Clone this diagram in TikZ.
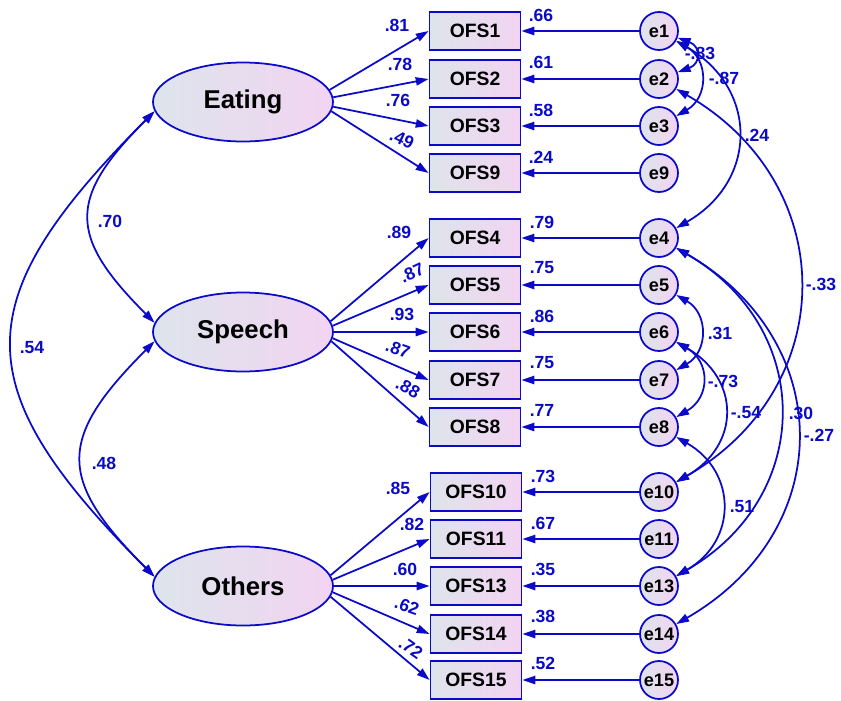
\documentclass[tikz,border=0pt]{standalone}
\usepackage{fontspec}
\setmainfont{Liberation Sans}
\usetikzlibrary{arrows.meta,shapes.geometric}
\definecolor{amosblue}{RGB}{10,10,200}
\definecolor{fillleft}{RGB}{222,228,236}
\definecolor{fillright}{RGB}{242,212,242}
\tikzset{every path/.style={line width=1.5pt}}
\tikzset{
  obs/.style={draw=amosblue,left color=fillleft,right color=fillright,minimum width=2.73cm,minimum height=1.14cm,inner sep=0pt,font=\bfseries\fontsize{16.5}{18}\selectfont},
  lat/.style={ellipse,draw=amosblue,left color=fillleft,right color=fillright,minimum width=5.4cm,minimum height=2.37cm,inner sep=0pt,font=\bfseries\fontsize{22}{24}\selectfont},
  err/.style={circle,draw=amosblue,left color=fillleft,right color=fillright,minimum size=1.14cm,inner sep=0pt,font=\bfseries\fontsize{15.5}{17}\selectfont},
  load/.style={draw=amosblue,-{Triangle[length=11pt,width=7pt]}},
  cov/.style={draw=amosblue,{Triangle[length=11pt,width=7pt]}-{Triangle[length=11pt,width=7pt]}},
  num/.style={text=amosblue,inner sep=0pt,font=\bfseries\fontsize{15}{17}\selectfont}
}

\begin{document}
\begin{tikzpicture}[x=0.03cm,y=-0.03cm]
\useasboundingbox (0,0) rectangle (841,700);
% latent factors
\node[lat] (eat) at (243,102) {Eating};
\node[lat] (sp) at (243,332) {Speech};
\node[lat] (oth) at (243,586) {Others};
% observed items
\node[obs] (ofs1) at (475,31) {OFS1};
\node[obs] (ofs2) at (475,79) {OFS2};
\node[obs] (ofs3) at (475,126) {OFS3};
\node[obs] (ofs9) at (475,173) {OFS9};
\node[obs] (ofs4) at (475,238) {OFS4};
\node[obs] (ofs5) at (475,285) {OFS5};
\node[obs] (ofs6) at (475,332) {OFS6};
\node[obs] (ofs7) at (475,380) {OFS7};
\node[obs] (ofs8) at (475,427) {OFS8};
\node[obs] (ofs10) at (476,492) {OFS10};
\node[obs] (ofs11) at (476,539) {OFS11};
\node[obs] (ofs13) at (476,586) {OFS13};
\node[obs] (ofs14) at (476,634) {OFS14};
\node[obs] (ofs15) at (476,680) {OFS15};
% errors
\node[err] (e1) at (659,31) {e1};
\node[err] (e2) at (659,79) {e2};
\node[err] (e3) at (659,126) {e3};
\node[err] (e9) at (659,173) {e9};
\node[err] (e4) at (659,238) {e4};
\node[err] (e5) at (659,285) {e5};
\node[err] (e6) at (659,332) {e6};
\node[err] (e7) at (659,380) {e7};
\node[err] (e8) at (659,427) {e8};
\node[err] (e10) at (659,492) {e10};
\node[err] (e11) at (659,539) {e11};
\node[err] (e13) at (659,586) {e13};
\node[err] (e14) at (659,634) {e14};
\node[err] (e15) at (659,680) {e15};
% loadings
\draw[load] (eat.8) -- (ofs1.west);
\draw[load] (eat.3) -- (ofs2.west);
\draw[load] (eat.-3) -- (ofs3.west);
\draw[load] (eat.-6) -- (ofs9.west);
\draw[load] (sp.7) -- (ofs4.west);
\draw[load] (sp.4) -- (ofs5.west);
\draw[load] (sp.0) -- (ofs6.west);
\draw[load] (sp.-4) -- (ofs7.west);
\draw[load] (sp.-6) -- (ofs8.west);
\draw[load] (oth.7) -- (ofs10.west);
\draw[load] (oth.4) -- (ofs11.west);
\draw[load] (oth.0) -- (ofs13.west);
\draw[load] (oth.-4) -- (ofs14.west);
\draw[load] (oth.-7) -- (ofs15.west);
\node[num] (ld1) at (397,25) {.81};
\node[num] (ld2) at (400,64) {.78};
\node[num] (ld3) at (398,100) {.76};
\node[num,rotate=-25] (ld9) at (402,139) {.49};
\node[num] (ld4) at (399,232) {.89};
\node[num,rotate=25] (ld5) at (412,273) {.87};
\node[num] (ld6) at (402,314) {.93};
\node[num,rotate=-20] (ld7) at (398,349) {.87};
\node[num,rotate=-30] (ld8) at (408,388) {.88};
\node[num] (ld10) at (398,488) {.85};
\node[num] (ld11) at (412,524) {.82};
\node[num] (ld13) at (405,569) {.60};
\node[num,rotate=-20] (ld14) at (407,606) {.62};
\node[num,rotate=-35] (ld15) at (411,648) {.72};
% error paths
\draw[load] (e1.west) -- (ofs1.east);
\draw[load] (e2.west) -- (ofs2.east);
\draw[load] (e3.west) -- (ofs3.east);
\draw[load] (e9.west) -- (ofs9.east);
\draw[load] (e4.west) -- (ofs4.east);
\draw[load] (e5.west) -- (ofs5.east);
\draw[load] (e6.west) -- (ofs6.east);
\draw[load] (e7.west) -- (ofs7.east);
\draw[load] (e8.west) -- (ofs8.east);
\draw[load] (e10.west) -- (ofs10.east);
\draw[load] (e11.west) -- (ofs11.east);
\draw[load] (e13.west) -- (ofs13.east);
\draw[load] (e14.west) -- (ofs14.east);
\draw[load] (e15.west) -- (ofs15.east);
\node[num] (vr1) at (541,15) {.66};
\node[num] (vr2) at (541,62) {.61};
\node[num] (vr3) at (541,110) {.58};
\node[num] (vr9) at (541,157) {.24};
\node[num] (vr4) at (542,222) {.79};
\node[num] (vr5) at (542,268) {.75};
\node[num] (vr6) at (542,316) {.86};
\node[num] (vr7) at (542,363) {.75};
\node[num] (vr8) at (542,410) {.77};
\node[num] (vr10) at (543,476) {.73};
\node[num] (vr11) at (543,523) {.67};
\node[num] (vr13) at (543,569) {.35};
\node[num] (vr14) at (543,616) {.38};
\node[num] (vr15) at (543,663) {.52};
% factor covariances
\draw[cov] (eat.186) to[out=-135,in=135,looseness=1.49] (sp.174);
\draw[cov] (eat.186) to[out=-135,in=135,looseness=1.48] (oth.174);
\draw[cov] (sp.186) to[out=-135,in=135,looseness=1.5] (oth.174);
\node[num] (cf1) at (110,221) {.70};
\node[num] (cf2) at (32,348) {.54};
\node[num] (cf3) at (104,463) {.48};
% error covariances
\draw[cov] (e1) to[out=-20,in=20,looseness=1.85] (e2);
\draw[cov] (e1) to[out=-30,in=30,looseness=1.28] (e3);
\draw[cov] (e1) to[out=-30,in=30,looseness=1.3] (e4);
\draw[cov] (e2) to[out=-30,in=30,looseness=1.24] (e10);
\draw[cov] (e4) to[out=-30,in=30,looseness=1.25] (e13);
\draw[cov] (e4) to[out=-30,in=30,looseness=1.27] (e14);
\draw[cov] (e5) to[out=-30,in=30,looseness=1.27] (e7);
\draw[cov] (e6) to[out=-30,in=30,looseness=1.35] (e8);
\draw[cov] (e6) to[out=-30,in=30,looseness=1.36] (e10);
\draw[cov] (e8) to[out=-30,in=30,looseness=1.3] (e13);
\node[num] (ce1) at (700,53) {-.83};
\node[num] (ce2) at (724,78) {-.87};
\node[num] (ce3) at (757,135) {.24};
\node[num] (ce4) at (821,284) {-.33};
\node[num] (ce5) at (720,333) {.31};
\node[num] (ce6) at (723,381) {-.73};
\node[num] (ce7) at (746,413) {-.54};
\node[num] (ce8) at (801,413) {.30};
\node[num] (ce9) at (819,435) {-.27};
\node[num] (ce10) at (742,507) {.51};
\end{tikzpicture}
\end{document}
